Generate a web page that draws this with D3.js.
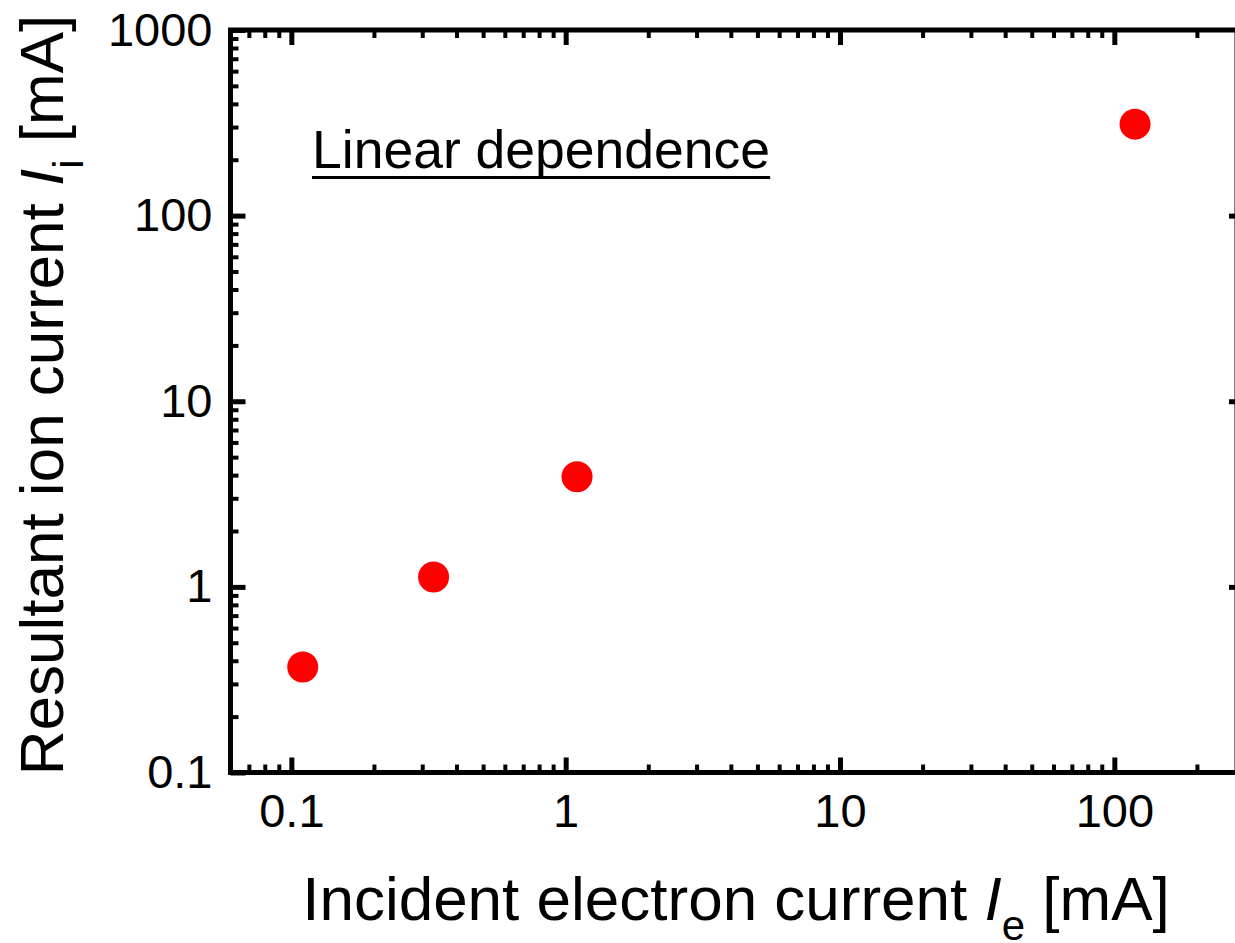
<!DOCTYPE html>
<html>
<head>
<meta charset="utf-8">
<script src="https://cdn.jsdelivr.net/npm/d3@7"></script>
<style>
	html, body { margin: 0; padding: 0; background: #fff; }
	text { font-family: "Liberation Sans", Arial, sans-serif; fill: #000; }
</style>
</head>
<body>
<svg id="chart" width="1235" height="943"></svg>
<script>
// measured points (incident electron current vs resultant ion current, mA)
const electronCurrent = [0.11, 0.33, 1.1, 119];
const ionCurrent = [0.37, 1.13, 3.92, 311];

const xDomain = [0.06, 280];
const yDomain = [0.1, 1000];
const xMajor = [0.1, 1, 10, 100];
const yMajor = [0.1, 1, 10, 100, 1000];
const xLabels = ['0.1', '1', '10', '100'];
const yLabels = ['0.1', '1', '10', '100', '1000'];

const plotLeft = 230.5, plotRight = 1237, plotTop = 30, plotBottom = 772.5;

const svg = d3.select('#chart');

const x = d3.scaleLog().domain(xDomain).range([plotLeft, plotRight]);
const y = d3.scaleLog().domain(yDomain).range([plotBottom, plotTop]);

const isMajor = v => Math.abs(Math.log10(v) - Math.round(Math.log10(v))) < 1e-9;
const xMinor = x.ticks().filter(v => !isMajor(v));
const yMinor = y.ticks().filter(v => !isMajor(v));

function styleAxis(g, w) {
	g.select('.domain').remove();
	g.selectAll('.tick line').attr('stroke', '#000').attr('stroke-width', w);
	g.selectAll('.tick text')
		.attr('font-size', 47)
		.attr('font-family', '"Liberation Sans", Arial, sans-serif')
		.attr('fill', '#000');
}

// bottom axis
svg.append('g')
	.attr('transform', `translate(0,${plotBottom})`)
	.call(d3.axisBottom(x).tickValues(xMinor).tickSize(-8).tickFormat(''))
	.call(g => styleAxis(g, 4));
svg.append('g')
	.attr('transform', `translate(0,${plotBottom})`)
	.call(d3.axisBottom(x).tickValues(xMajor).tickSize(-15).tickPadding(21)
		.tickFormat((d, i) => xLabels[i]))
	.call(g => styleAxis(g, 5));

// top axis
svg.append('g')
	.attr('transform', `translate(0,${plotTop})`)
	.call(d3.axisTop(x).tickValues(xMinor).tickSize(-8).tickFormat(''))
	.call(g => styleAxis(g, 4));
svg.append('g')
	.attr('transform', `translate(0,${plotTop})`)
	.call(d3.axisTop(x).tickValues(xMajor).tickSize(-15).tickFormat(''))
	.call(g => styleAxis(g, 5));

// left axis
svg.append('g')
	.attr('transform', `translate(${plotLeft},0)`)
	.call(d3.axisLeft(y).tickValues(yMinor).tickSize(-8).tickFormat(''))
	.call(g => styleAxis(g, 4));
svg.append('g')
	.attr('transform', `translate(${plotLeft},0)`)
	.call(d3.axisLeft(y).tickValues(yMajor).tickSize(-15).tickPadding(18)
		.tickFormat((d, i) => yLabels[i]))
	.call(g => styleAxis(g, 5));

// right axis, majors only
svg.append('g')
	.attr('transform', `translate(${plotRight},0)`)
	.call(d3.axisRight(y).tickValues(yMajor.slice(1, 4)).tickSize(-8).tickFormat(''))
	.call(g => styleAxis(g, 5));

// frame
svg.append('rect')
	.attr('x', plotLeft)
	.attr('y', plotTop)
	.attr('width', plotRight - plotLeft)
	.attr('height', plotBottom - plotTop)
	.attr('fill', 'none')
	.attr('stroke', '#000')
	.attr('stroke-width', 5);

// points
svg.append('g')
	.selectAll('circle')
	.data(electronCurrent.map((v, i) => ({ x: v, y: ionCurrent[i] })))
	.join('circle')
	.attr('cx', d => x(d.x))
	.attr('cy', d => y(d.y))
	.attr('r', 15.5)
	.attr('fill', '#ff0000');

// annotation
const note = svg.append('text')
	.attr('x', 312)
	.attr('y', 168)
	.attr('font-size', 53.5)
	.text('Linear dependence');
const nb = note.node().getBBox();
svg.append('line')
	.attr('x1', nb.x)
	.attr('x2', nb.x + nb.width)
	.attr('y1', 177.5)
	.attr('y2', 177.5)
	.attr('stroke', '#000')
	.attr('stroke-width', 3);

// x title
const xt = svg.append('text')
	.attr('x', 736)
	.attr('y', 920)
	.attr('text-anchor', 'middle')
	.attr('font-size', 62);
xt.append('tspan').text('Incident electron current ');
xt.append('tspan').attr('font-style', 'italic').text('I');
xt.append('tspan').attr('font-size', 42).attr('dy', 20).text('e');
xt.append('tspan').attr('dy', -20).text(' [mA]');

// y title
const yt = svg.append('text')
	.attr('transform', 'translate(63,395) rotate(-90)')
	.attr('text-anchor', 'middle')
	.attr('font-size', 62);
yt.append('tspan').text('Resultant ion current ');
yt.append('tspan').attr('font-style', 'italic').text('I');
yt.append('tspan').attr('font-size', 42).attr('dy', 20).text('i');
yt.append('tspan').attr('dy', -20).text(' [mA]');
</script>
</body>
</html>
